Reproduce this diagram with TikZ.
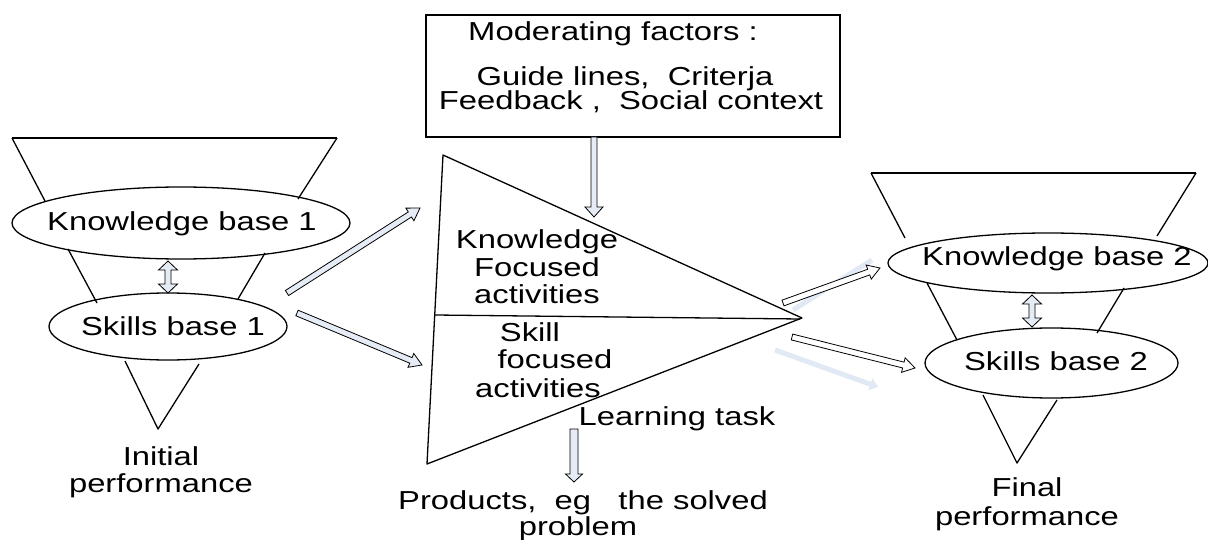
\documentclass[tikz,border=0pt]{standalone}
\usepackage{fontspec}
\setmainfont[FakeStretch=1.26]{Liberation Sans}
\usetikzlibrary{calc,shapes.geometric,arrows.meta}
\definecolor{afill}{HTML}{E6ECF6}
\definecolor{ghostc}{HTML}{E1E9F5}
\newcommand\hollowarr[6][]{%
 \draw[#1] let \p1=($(#3)-(#2)$), \n1={atan2(\y1,\x1)}, \n2={veclen(\x1,\y1)-#6} in
 ($(#2)+(\n1+90:#4)$) -- ($(#2)+(\n1+90:#4)+(\n1:\n2)$) -- ($(#2)+(\n1+90:#5)+(\n1:\n2)$) -- (#3)
 -- ($(#2)+(\n1-90:#5)+(\n1:\n2)$) -- ($(#2)+(\n1-90:#4)+(\n1:\n2)$) -- ($(#2)+(\n1-90:#4)$) -- cycle;}
\newcommand\dblarr[6][]{%
 \draw[#1] let \p1=($(#3)-(#2)$), \n1={atan2(\y1,\x1)}, \n2={veclen(\x1,\y1)-#6} in
 (#2) -- ($(#2)+(\n1+90:#5)+(\n1:#6)$) -- ($(#2)+(\n1+90:#4)+(\n1:#6)$) -- ($(#2)+(\n1+90:#4)+(\n1:\n2)$)
 -- ($(#2)+(\n1+90:#5)+(\n1:\n2)$) -- (#3) -- ($(#2)+(\n1-90:#5)+(\n1:\n2)$) -- ($(#2)+(\n1-90:#4)+(\n1:\n2)$)
 -- ($(#2)+(\n1-90:#4)+(\n1:#6)$) -- ($(#2)+(\n1-90:#5)+(\n1:#6)$) -- cycle;}
\begin{document}
\begin{tikzpicture}[x=1pt,y=1pt,
  ln/.style={line width=1.3pt, line join=round},
  ell/.style={ellipse, draw, line width=1.3pt, inner sep=0pt},
  txt/.style={inner sep=0pt, text height=18.6pt, text depth=0pt, font=\fontsize{26}{28}\selectfont},
  blue arrow/.style={draw=black, line width=0.8pt, fill=afill},
  white arrow/.style={draw=black, line width=0.8pt, fill=white},
  ghost/.style={draw=ghostc, line width=5pt}]
\useasboundingbox (0,0) rectangle (1208,-540);
\fill[white] (0,0) rectangle (1208,-540);

% ---------- left funnel ----------
\draw[ln] (12,-138) -- (337,-138);
\draw[ln] (12,-138) -- (45,-201);
\draw[ln] (337,-138) -- (298,-199);
\draw[ln] (68,-249) -- (97,-303);
\draw[ln] (265,-253) -- (238,-299);
\draw[ln] (125,-361) -- (158,-429) -- (199,-364);
\node[ell, minimum width=338pt, minimum height=72pt] (kb1) at (181,-223) {};
\node[txt] (kb1t) at (182,-221) {Knowledge base 1};
\node[ell, minimum width=238pt, minimum height=67pt] (sb1) at (168,-326.5) {};
\node[txt] (sb1t) at (173,-326) {Skills base 1};
\coordinate (v1a) at (168,-261);
\coordinate (v1b) at (168,-293);
\dblarr[blue arrow]{v1a}{v1b}{3}{9.5}{9}
\node[txt] (init1) at (161,-456) {Initial};
\node[txt] (init2) at (161,-483) {performance};

% ---------- moderating box ----------
\node[draw, line width=1.3pt, minimum width=414pt, minimum height=122pt, inner sep=0pt] (mod) at (633,-76) {};
\node[txt] (m1) at (613,-31) {Moderating factors :};
\node[txt] (m2) at (625,-76) {Guide lines,\ \ Criterja};
\node[txt] (m3) at (631,-100) {Feedback ,\ \ Social context};
\coordinate (d1) at (594,-137);
\coordinate (d2) at (594,-217);
\hollowarr[blue arrow]{d1}{d2}{3}{9}{10}

% ---------- learning task triangle ----------
\draw[ln] (443,-155) coordinate (tA) -- (802,-318) coordinate (tB) -- (427,-464) coordinate (tC) -- cycle;
\draw[ln] (435,-315) -- (800,-319);
\node[txt] (t1) at (537,-239) {Knowledge};
\node[txt] (t2) at (537,-267) {Focused};
\node[txt] (t3) at (537,-294) {activities};
\node[txt] (t4) at (530,-332) {Skill};
\node[txt] (t5) at (555,-359) {focused};
\node[txt] (t6) at (538,-388) {activities};
\node[txt] (lt) at (677,-416) {Learning task};
\coordinate (p1) at (574,-429);
\coordinate (p2) at (574,-482);
\hollowarr[blue arrow]{p1}{p2}{4}{8.5}{8}
\node[txt] (pr1) at (583,-500) {Products,\ \ eg \ \ the solved};
\node[txt] (pr2) at (578,-526) {problem};

% ---------- left arrows ----------
\coordinate (la1) at (287,-293);
\coordinate (la2) at (420,-208);
\coordinate (lb1) at (297,-313);
\coordinate (lb2) at (422,-365);
\hollowarr[blue arrow]{la1}{la2}{3}{7.5}{12}
\hollowarr[blue arrow]{lb1}{lb2}{3}{7.5}{12}

% ---------- right arrows ----------
\coordinate (ga1) at (793,-310);
\coordinate (ga2) at (872,-260);
\coordinate (gb1) at (775,-350);
\coordinate (gb2) at (878,-387);
\draw[ghost] (ga1) -- (ga2);
\draw[ghost, -{Triangle[length=8pt,width=12pt]}] (gb1) -- (gb2);
\coordinate (ra1) at (783,-303);
\coordinate (ra2) at (880,-268);
\coordinate (rb1) at (792,-337);
\coordinate (rb2) at (915,-368);
\hollowarr[white arrow]{ra1}{ra2}{3}{7.5}{12}
\hollowarr[white arrow]{rb1}{rb2}{3}{7.5}{12}

% ---------- right funnel ----------
\draw[ln] (871,-173) -- (1196,-173);
\draw[ln] (871,-173) -- (905,-238);
\draw[ln] (1196,-173) -- (1157,-236);
\draw[ln] (927,-283) -- (957,-340);
\draw[ln] (1124,-288) -- (1097,-333);
\draw[ln] (983,-395) -- (1017,-463) -- (1057,-400);
\node[ell, minimum width=320pt, minimum height=60pt] (kb2) at (1048,-263) {};
\node[txt] (kb2t) at (1057,-256) {Knowledge base 2};
\node[ell, minimum width=253pt, minimum height=70pt] (sb2) at (1051.5,-363) {};
\node[txt] (sb2t) at (1056,-361) {Skills base 2};
\coordinate (v2a) at (1032,-295);
\coordinate (v2b) at (1032,-327);
\dblarr[blue arrow]{v2a}{v2b}{3}{9.5}{9}
\node[txt] (fin1) at (1027,-487) {Final};
\node[txt] (fin2) at (1027,-516) {performance};
\end{tikzpicture}
\end{document}
